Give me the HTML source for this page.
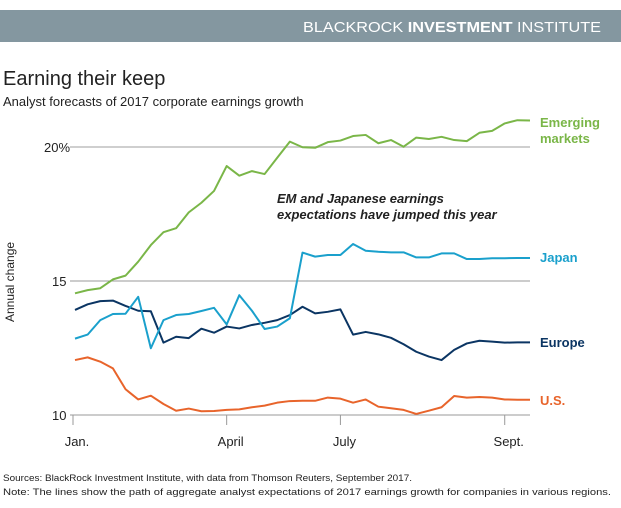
<!DOCTYPE html>
<html><head><meta charset="utf-8"><style>
body{margin:0;background:#fff;width:621px;height:503px;overflow:hidden;font-family:"Liberation Sans",sans-serif}
</style></head><body>
<svg width="621" height="503" viewBox="0 0 621 503">
<rect x="0" y="10" width="621" height="32" fill="#8497a0"/>
<text x="303" y="32" fill="#fff" font-size="15" textLength="298" lengthAdjust="spacingAndGlyphs">BLACKROCK <tspan font-weight="bold">INVESTMENT</tspan> INSTITUTE</text>
<text x="3" y="85" font-size="20" fill="#222">Earning their keep</text>
<text x="3" y="106" font-size="13" fill="#222">Analyst forecasts of 2017 corporate earnings growth</text>
<g id="grid"></g>
<g id="series"></g>
<text transform="translate(14,282) rotate(-90)" text-anchor="middle" font-size="12" fill="#222">Annual change</text>
<text x="277" y="203" font-size="13" font-weight="bold" font-style="italic" fill="#222">EM and Japanese earnings</text>
<text x="277" y="219" font-size="13" font-weight="bold" font-style="italic" fill="#222">expectations have jumped this year</text>
<text x="540" y="127" font-size="13" font-weight="bold" fill="#7ab648">Emerging</text>
<text x="540" y="143" font-size="13" font-weight="bold" fill="#7ab648">markets</text>
<text x="540" y="262" font-size="13" font-weight="bold" fill="#1aa0cc">Japan</text>
<text x="540" y="347" font-size="13" font-weight="bold" fill="#0b3563">Europe</text>
<text x="540" y="405" font-size="13" font-weight="bold" fill="#e8642b">U.S.</text>
<text x="3" y="481" font-size="9.5" fill="#222" textLength="409" lengthAdjust="spacingAndGlyphs">Sources: BlackRock Investment Institute, with data from Thomson Reuters, September 2017.</text>
<text x="3" y="495" font-size="9.5" fill="#222" textLength="608" lengthAdjust="spacingAndGlyphs">Note: The lines show the path of aggregate analyst expectations of 2017 earnings growth for companies in various regions.</text>
</svg>
<script>
const em=[14.54,14.66,14.73,15.06,15.2,15.72,16.34,16.82,16.97,17.56,17.92,18.36,19.29,18.93,19.1,18.99,19.6,20.2,19.99,19.97,20.18,20.24,20.41,20.45,20.14,20.26,20.01,20.35,20.3,20.38,20.26,20.22,20.53,20.6,20.88,21.0,20.99];
const japan=[12.85,13.0,13.54,13.77,13.78,14.41,12.49,13.54,13.73,13.77,13.88,14.0,13.38,14.47,13.89,13.21,13.3,13.61,16.06,15.91,15.97,15.97,16.38,16.13,16.09,16.07,16.07,15.88,15.88,16.03,16.03,15.82,15.82,15.85,15.85,15.86,15.86];
const europe=[13.92,14.13,14.25,14.27,14.07,13.89,13.87,12.7,12.92,12.87,13.22,13.07,13.3,13.23,13.36,13.44,13.54,13.73,14.04,13.79,13.85,13.94,13.0,13.1,13.01,12.88,12.64,12.36,12.18,12.05,12.43,12.67,12.77,12.74,12.7,12.71,12.71];
const us=[12.05,12.15,11.99,11.74,10.96,10.58,10.72,10.41,10.16,10.24,10.14,10.15,10.19,10.21,10.29,10.35,10.46,10.52,10.53,10.53,10.65,10.61,10.46,10.58,10.31,10.25,10.19,10.04,10.16,10.29,10.71,10.65,10.67,10.65,10.58,10.57,10.57];
const yTicks=[10,15,20];
const yTickLabels=["10","15","20%"];
const xTickIdx=[0,12,21,34];
const xTickLabels=["Jan.","April","July","Sept."];
const NS="http://www.w3.org/2000/svg";
const x=i=>75+i*(455/36);
const y=v=>415-(v-10)*26.8;
const grid=document.getElementById('grid'),ser=document.getElementById('series');
function mk(tag,attrs,parent){const e=document.createElementNS(NS,tag);for(const k in attrs)e.setAttribute(k,attrs[k]);parent.appendChild(e);return e;}
yTicks.forEach((t,i)=>{
  const l=mk('line',{x1:70,x2:530,y1:y(t),y2:y(t),stroke:t===20?'#cfcfcf':'#999','stroke-width':t===20?2:1},grid);
  
  
  const tx=mk('text',{x:t===20?44:52,y:y(t)+5,'font-size':13,fill:'#222'},grid);
  tx.textContent=yTickLabels[i];
  
  
});
xTickIdx.forEach((idx,i)=>{
  const px=idx===0?73:x(idx);
  const l=mk('line',{x1:px,x2:px,y1:415,y2:425,stroke:'#999','stroke-width':1},grid);
  
  
  const tx=mk('text',{x:px+4,y:446,'font-size':13,fill:'#222','text-anchor':'middle'},grid);
  tx.textContent=xTickLabels[i];
  
  
});
[[us,'#e8642b','line-us'],[europe,'#0b3563','line-europe'],[japan,'#1aa0cc','line-japan'],[em,'#7ab648','line-emerging']].forEach(([d,c,n])=>{
  const p=mk('polyline',{points:d.map((v,i)=>x(i)+','+y(v)).join(' '),fill:'none',stroke:c,'stroke-width':2,'stroke-linejoin':'round'},ser);
  
  
});
</script>
</body></html>
